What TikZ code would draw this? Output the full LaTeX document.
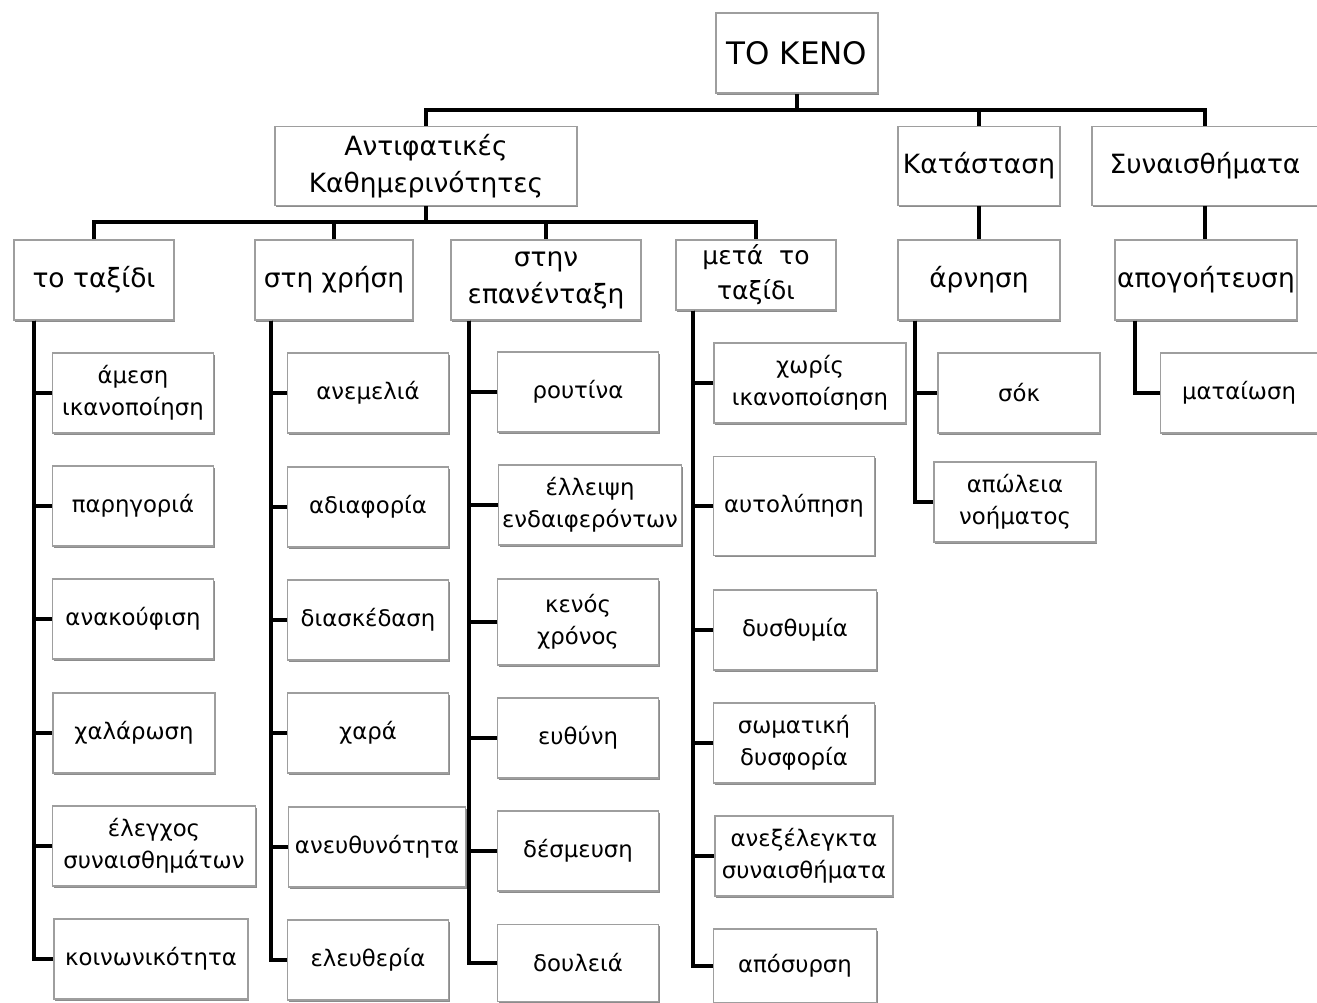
\documentclass[tikz,border=0pt]{standalone}
\usepackage{fontspec}
\setmainfont{DejaVu Sans}
\usetikzlibrary{calc,positioning,shadows}

\tikzset{
  box/.style={draw=black!38, line width=1.1pt, fill=white, align=center, inner sep=1pt,
    drop shadow={shadow xshift=1.4pt, shadow yshift=-1.6pt, fill=black!45, opacity=1},
    minimum width=161pt, minimum height=80pt, font=\fontsize{22.8}{32}\selectfont},
  upper/.style={box, font=\fontsize{26.5}{37}\selectfont},
  link/.style={line width=4pt, black},
}

\begin{document}
\begin{tikzpicture}[x=1pt,y=-1pt]
\useasboundingbox (0,0) rectangle (1317,1002);
% root and first level
\node[upper, minimum width=162pt, font=\fontsize{31}{36}\selectfont] (keno) at (797,53) {ΤΟ ΚΕΝΟ};
\node[upper, minimum width=302pt, minimum height=79pt] (antif) at (426,166) {Αντιφατικές\\Καθημερινότητες};
\node[upper, minimum width=162pt, minimum height=79pt] (katast) at (979,166) {Κατάσταση};
\node[upper, minimum width=226pt, minimum height=79pt] (synais) at (1205,166) {Συναισθήματα};
% second level
\node[upper, minimum width=160pt] (taxidi) at (94,280) {το ταξίδι};
\node[upper, minimum width=158pt] (xrisi) at (334,280) {στη χρήση};
\node[upper, minimum width=190pt] (epan) at (546,280) {στην\\επανένταξη};
\node[upper, minimum width=160pt, minimum height=70pt, font=\fontsize{25}{35}\selectfont] (meta) at (756,275) {μετά\ \ το\\ταξίδι};
\node[upper, minimum width=162pt] (arnisi) at (979,280) {άρνηση};
\node[upper, minimum width=182pt] (apog) at (1206,280) {απογοήτευση};
% leaves under το ταξίδι
\node[box] (amesi) at (133,393) {άμεση\\ικανοποίηση};
\node[box] (parig) at (133,506) {παρηγοριά};
\node[box] (anak) at (133,619) {ανακούφιση};
\node[box, minimum width=162pt] (xalar) at (134,733) {χαλάρωση};
\node[box, minimum width=203pt] (elegx) at (154,846) {έλεγχος\\συναισθημάτων};
\node[box, minimum width=194pt] (koin) at (151,959) {κοινωνικότητα};
% leaves under στη χρήση
\node[box] (anem) at (368,393) {ανεμελιά};
\node[box] (adiaf) at (368,507) {αδιαφορία};
\node[box] (diask) at (368,620) {διασκέδαση};
\node[box] (xara) at (368,733) {χαρά};
\node[box, minimum width=177pt] (aneuth) at (377,847) {ανευθυνότητα};
\node[box] (eleuth) at (368,960) {ελευθερία};
% leaves under στην επανένταξη
\node[box] (rout) at (578,392) {ρουτίνα};
\node[box, minimum width=183pt] (elleip) at (590,505) {έλλειψη\\ενδαιφερόντων};
\node[box, minimum height=86pt] (kenos) at (578,622) {κενός\\χρόνος};
\node[box] (euth) at (578,738) {ευθύνη};
\node[box] (desm) at (578,851) {δέσμευση};
\node[box, minimum height=77pt] (doul) at (578,963) {δουλειά};
% leaves under μετά το ταξίδι
\node[box, minimum width=192pt] (xwris) at (810,383) {χωρίς\\ικανοποίσηση};
\node[box, minimum height=99pt] (autol) at (794,506) {αυτολύπηση};
\node[box, minimum width=163pt] (dysth) at (795,630) {δυσθυμία};
\node[box] (swmat) at (794,743) {σωματική\\δυσφορία};
\node[box, minimum width=178pt] (anexel) at (804,856) {ανεξέλεγκτα\\συναισθήματα};
\node[box, minimum width=163pt, minimum height=74pt] (apos) at (795,966) {απόσυρση};
% leaves under άρνηση and απογοήτευση
\node[box, minimum width=162pt] (sok) at (1019,393) {σόκ};
\node[box, minimum width=162pt] (apwl) at (1015,502) {απώλεια\\νοήματος};
\node[box, minimum width=157pt] (matai) at (1239,393) {ματαίωση};
% buses
\draw[link] (keno.south) -- ++(0,16) coordinate (bus1);
\foreach \n in {antif,katast,synais}{\draw[link] (bus1) -| (\n.north);}
\draw[link] (antif.south) -- ++(0,16) coordinate (bus2);
\foreach \n in {taxidi,xrisi,epan,meta}{\draw[link] (bus2) -| (\n.north);}
\draw[link] (katast) -- (arnisi);
\draw[link] (synais.south) -- (synais.south |- apog.north);
% trunks
\foreach \n in {amesi,parig,anak,xalar,elegx,koin}{\draw[link] ([xshift=21pt]taxidi.south west) |- (\n.west);}
\foreach \n in {anem,adiaf,diask,xara,aneuth,eleuth}{\draw[link] ([xshift=17pt]xrisi.south west) |- (\n.west);}
\foreach \n in {rout,elleip,kenos,euth,desm,doul}{\draw[link] ([xshift=19pt]epan.south west) |- (\n.west);}
\foreach \n in {xwris,autol,dysth,swmat,anexel,apos}{\draw[link] ([xshift=18pt]meta.south west) |- (\n.west);}
\foreach \n in {sok,apwl}{\draw[link] ([xshift=18pt]arnisi.south west) |- (\n.west);}
\draw[link] ([xshift=21pt]apog.south west) |- (matai.west);
\end{tikzpicture}
\end{document}
